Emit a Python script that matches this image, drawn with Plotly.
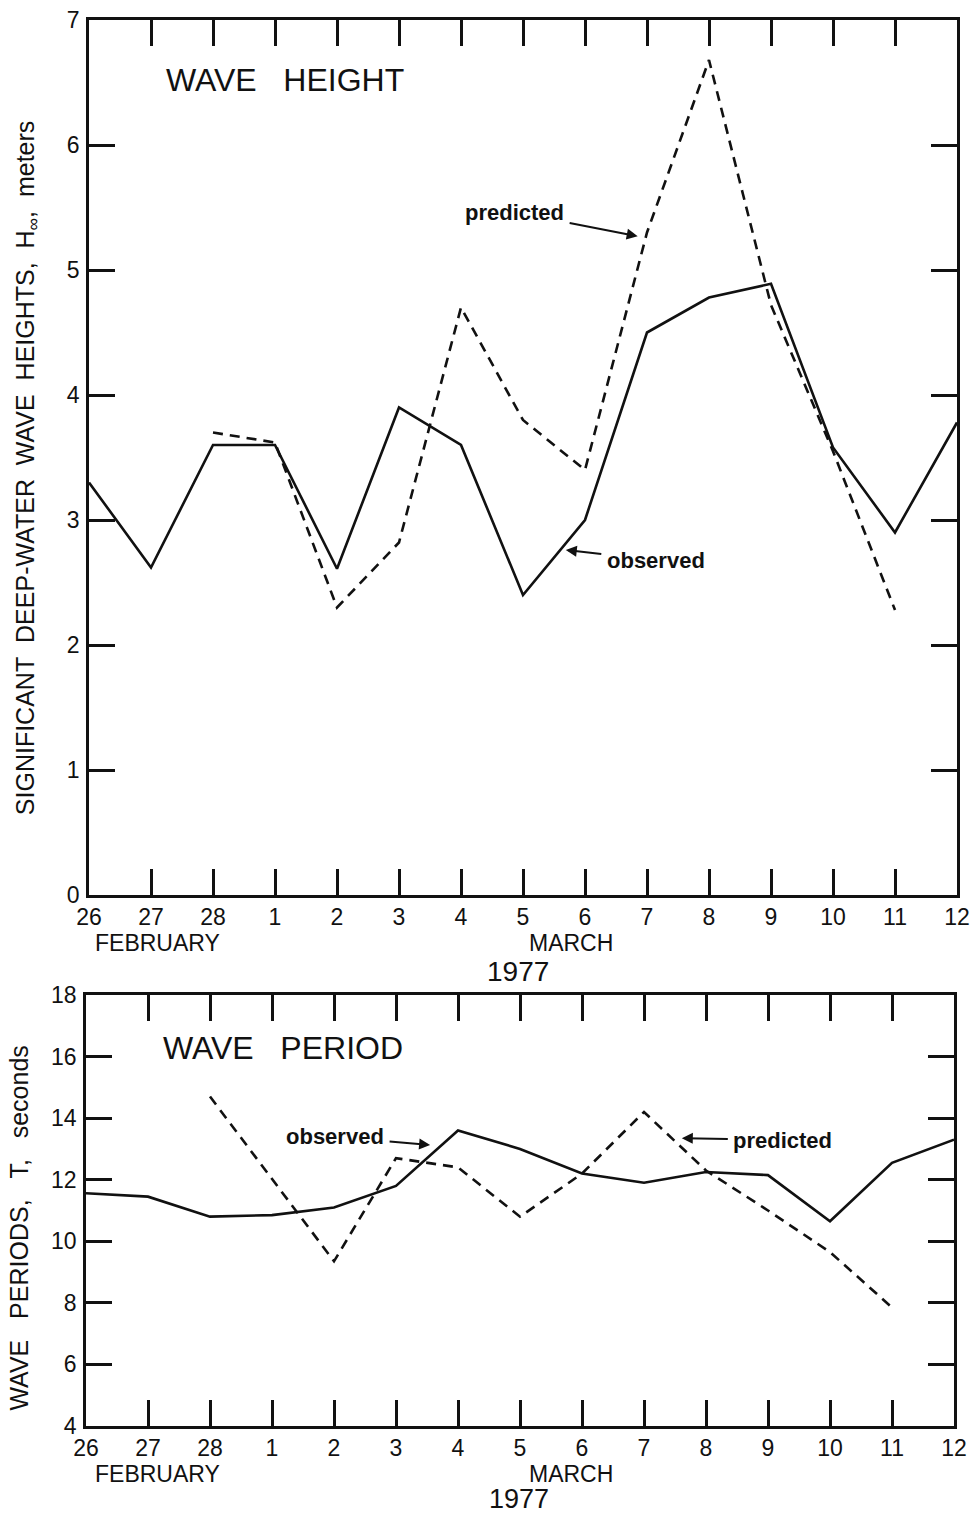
import plotly.graph_objects as go

# ---- data ----
days = ["26", "27", "28", "1", "2", "3", "4", "5", "6", "7", "8", "9", "10", "11", "12"]
day_idx = list(range(len(days)))

height_observed = [3.30, 2.62, 3.60, 3.60, 2.61, 3.90, 3.60, 2.40, 3.00, 4.50, 4.78, 4.89, 3.58, 2.90, 3.78]
height_predicted = [None, None, 3.70, 3.62, 2.30, 2.82, 4.70, 3.80, 3.40, 5.30, 6.68, 4.72, 3.55, 2.28, None]

period_observed = [11.56, 11.45, 10.80, 10.85, 11.10, 11.80, 13.60, 13.00, 12.20, 11.90, 12.25, 12.15, 10.65, 12.55, 13.30]
period_predicted = [None, None, 14.70, None, 9.35, 12.70, 12.40, 10.80, 12.20, 14.20, 12.30, 11.00, 9.65, 7.85, None]

height_ticks = [0, 1, 2, 3, 4, 5, 6, 7]
period_ticks = [4, 6, 8, 10, 12, 14, 16, 18]

W, H = 972, 1515
FONT = "Liberation Sans"
BLACK = "#111111"
NB = "\u00a0"
ZW = "\u200b"

fig = go.Figure()

# top panel
fig.add_trace(go.Scatter(x=day_idx, y=height_observed, mode="lines",
                         line=dict(color=BLACK, width=2.6), xaxis="x", yaxis="y",
                         name="observed", showlegend=False))
fig.add_trace(go.Scatter(x=day_idx, y=height_predicted, mode="lines",
                         line=dict(color=BLACK, width=2.6, dash="10px,7px"), xaxis="x", yaxis="y",
                         name="predicted", showlegend=False, connectgaps=True))
# bottom panel
fig.add_trace(go.Scatter(x=day_idx, y=period_observed, mode="lines",
                         line=dict(color=BLACK, width=2.6), xaxis="x2", yaxis="y2",
                         name="observed", showlegend=False))
fig.add_trace(go.Scatter(x=day_idx, y=period_predicted, mode="lines",
                         line=dict(color=BLACK, width=2.6, dash="10px,7px"), xaxis="x2", yaxis="y2",
                         name="predicted", showlegend=False, connectgaps=True))

common_axis = dict(showgrid=False, zeroline=False, showline=True, linecolor=BLACK, linewidth=2.6,
                   mirror="ticks", ticks="inside", ticklen=26, tickwidth=2.6, tickcolor=BLACK,
                   tickfont=dict(family=FONT, size=23, color=BLACK), automargin=False)

top_dom = [1 - 895 / H, 1 - 20 / H]
bot_dom = [1 - 1426 / H, 1 - 995 / H]

top_title = (NB * 2).join(["SIGNIFICANT", "DEEP-WATER", "WAVE", "HEIGHTS,", "H<sub>\u221e</sub>,", "meters"]) + NB * 3 + ZW
bot_title = (NB * 3).join(["WAVE", "PERIODS,", "T,", "seconds"]) + NB * 5 + ZW

fig.update_layout(
    width=W, height=H,
    margin=dict(l=0, r=0, t=0, b=0),
    paper_bgcolor="white", plot_bgcolor="white",
    xaxis=dict(common_axis, domain=[89 / W, 957 / W], range=[0, 14], tickvals=day_idx, ticktext=days,
               anchor="y", ticklabelstandoff=0),
    yaxis=dict(common_axis, domain=top_dom, range=[0, 7], tickvals=height_ticks, anchor="x",
               ticklabelstandoff=2,
               title=dict(text=top_title, font=dict(family=FONT, size=25, color=BLACK), standoff=26)),
    xaxis2=dict(common_axis, domain=[86 / W, 954 / W], range=[0, 14], tickvals=day_idx, ticktext=days,
                anchor="y2", ticklabelstandoff=0),
    yaxis2=dict(common_axis, domain=bot_dom, range=[4, 18], tickvals=period_ticks, anchor="x2",
                ticklabelstandoff=2,
                title=dict(text=bot_title, font=dict(family=FONT, size=25, color=BLACK), standoff=16)),
)


def ptext(x, y, text, size=22, bold=False):
    fig.add_annotation(xref="paper", yref="paper", x=x / W, y=1 - y / H, text=text,
                       showarrow=False, xanchor="center", yanchor="middle",
                       font=dict(family=FONT, size=size, color=BLACK, weight="bold" if bold else "normal"))


def label_arrow(xr, yr, head, offset, text):
    fig.add_annotation(xref=xr, yref=yr, x=head[0], y=head[1], ax=offset[0], ay=offset[1],
                       text=text, showarrow=True, arrowhead=2, arrowsize=1.1, arrowwidth=2,
                       arrowcolor=BLACK, standoff=0, startstandoff=4,
                       font=dict(family=FONT, size=22, color=BLACK, weight="bold"))


# titles inside panels
ptext(285, 80, "WAVE" + NB * 3 + "HEIGHT", size=32)
ptext(283, 1048, "WAVE" + NB * 3 + "PERIOD", size=32)

# series labels with arrows
label_arrow("x", "y", (8.85, 5.27), (-123, -24), "predicted")
label_arrow("x", "y", (7.69, 2.76), (90, 10), "observed")
label_arrow("x2", "y2", (5.55, 13.13), (-95, -8), "observed")
label_arrow("x2", "y2", (9.61, 13.35), (101, 2), "predicted")

# month / year labels
for ybase in (943, 1474):
    ptext(157, ybase, "FEBRUARY", size=23)
    ptext(571, ybase, "MARCH", size=23)
ptext(518, 971, "1977", size=28)
ptext(519, 1499, "1977", size=27)

fig.write_html("out.html", config={"displayModeBar": False},
               post_script="document.body.style.margin='0';document.body.style.padding='0';")
